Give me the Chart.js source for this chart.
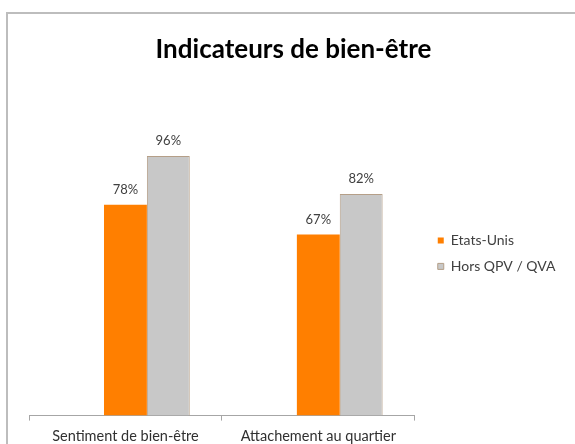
<!DOCTYPE html>
<html>
<head>
<meta charset="utf-8">
<script src="https://cdn.jsdelivr.net/npm/chart.js@4/dist/chart.umd.min.js"></script>
<style>
    html, body { margin: 0; padding: 0; background: #ffffff; overflow: hidden; }
    #wrap { position: relative; width: 575px; height: 444px; }
    #frame {
        position: absolute; left: 6px; top: 12px; width: 620px; height: 500px;
        border-top: 2px solid #bdbdbd; border-left: 2px solid #bdbdbd;
    }
    #chart { position: absolute; left: 0; top: 0; }
</style>
</head>
<body>
<div id="wrap">
    <div id="frame"></div>
    <canvas id="chart" width="575" height="444"></canvas>
</div>
<script>
// categories + series (en %)
const categories = ["Sentiment de bien-être", "Attachement au quartier"];
const blankSeries = [null, null]; // série vide (place réservée dans le graphe d'origine)
const etatsUnis = [78, 67];
const horsQpv = [96, 82];

const seriesNames = ["", "Etats-Unis", "Hors QPV / QVA"];

const FONT = "Lato, 'Open Sans', sans-serif";

// étiquettes de valeur au-dessus des barres
const valueLabels = {
    id: "valueLabels",
    afterDatasetsDraw: function (chart) {
        const ctx = chart.ctx;
        ctx.save();
        ctx.font = "13px " + FONT;
        ctx.fillStyle = "#404040";
        ctx.textAlign = "center";
        ctx.textBaseline = "middle";
        chart.data.datasets.forEach((ds, i) => {
            const meta = chart.getDatasetMeta(i);
            meta.data.forEach((bar, j) => {
                const v = ds.data[j];
                if (v === null || v === undefined) return;
                ctx.fillText(v + "%", bar.x, bar.y - 15);
            });
        });
        ctx.restore();
    }
};

const ctx = document.getElementById("chart").getContext("2d");

new Chart(ctx, {
    type: "bar",
    data: {
        labels: categories,
        datasets: [
            {
                label: seriesNames[0],
                data: blankSeries,
                backgroundColor: "rgba(0,0,0,0)"
            },
            {
                label: seriesNames[1],
                data: etatsUnis,
                backgroundColor: "#ff7f00",
                borderWidth: 0
            },
            {
                label: seriesNames[2],
                data: horsQpv,
                backgroundColor: "#c8c8c8",
                borderColor: "#b59f88",
                borderWidth: 1
            }
        ]
    },
    options: {
        responsive: false,
        animation: { duration: 0 },
        datasets: {
            bar: { barPercentage: 1.0, categoryPercentage: 0.667 }
        },
        layout: {
            padding: { left: 29, right: 17, top: 0, bottom: -8 }
        },
        plugins: {
            title: {
                display: true,
                text: "Indicateurs de bien-être",
                color: "#000000",
                font: { family: FONT, size: 26, weight: "bold" },
                padding: { top: 34, bottom: 26 }
            },
            legend: {
                position: "right",
                fullSize: false,
                labels: {
                    filter: (item) => item.text !== "",
                    boxWidth: 6,
                    boxHeight: 6,
                    padding: 12,
                    color: "#404040",
                    font: { family: FONT, size: 14 }
                }
            },
            tooltip: { enabled: false }
        },
        scales: {
            x: {
                grid: {
                    display: true,
                    drawOnChartArea: false,
                    drawTicks: true,
                    tickLength: 5,
                    offset: true,
                    color: "#a6a6a6"
                },
                border: { display: true, color: "#a6a6a6", width: 1 },
                ticks: {
                    color: "#303030",
                    padding: 7,
                    font: { family: FONT, size: 14.5 }
                }
            },
            y: {
                position: "right",
                min: 0,
                max: 120,
                grid: { display: false },
                border: { display: false },
                ticks: { display: false },
                afterFit: function (scale) { scale.width = 11; }
            }
        }
    },
    plugins: [valueLabels]
});
</script>
</body>
</html>
